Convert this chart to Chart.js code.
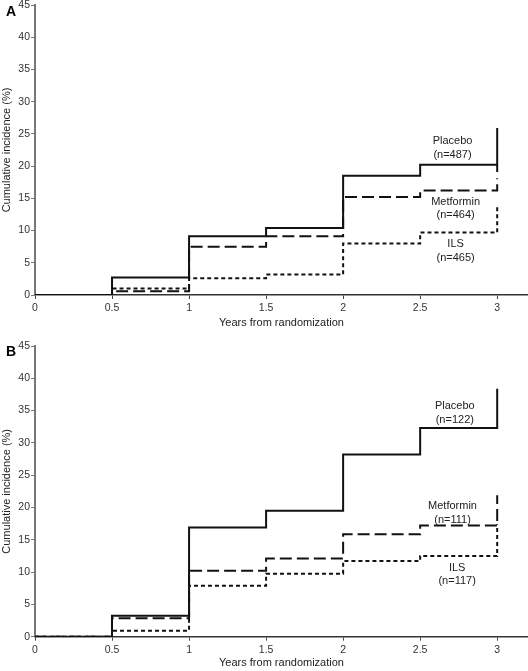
<!DOCTYPE html>
<html>
<head>
<meta charset="utf-8">
<script src="https://cdn.jsdelivr.net/npm/chart.js@4.4.1/dist/chart.umd.min.js"></script>
<style>
  html, body { margin: 0; padding: 0; background: #fff; }
  #wrap { position: relative; width: 528px; height: 671px; }
  canvas { position: absolute; left: 0; }
  #cA { top: 0; }
  #cB { top: 335px; }
  .panel-tag {
    position: absolute; left: 6px;
    font: bold 14px "Liberation Sans", Arial, sans-serif;
    line-height: 14px; color: #000;
  }
</style>
</head>
<body>
<div id="wrap">
  <canvas id="cA" width="528" height="335"></canvas>
  <canvas id="cB" width="528" height="336"></canvas>
  <div class="panel-tag" style="top:4px">A</div>
  <div class="panel-tag" style="top:344px">B</div>
</div>
<script>
// ── Data ──────────────────────────────────────────────────────────────────────
// step times (years); the last time is repeated for the closing vertical bar
const YEARS = [0, 0.5, 1, 1.5, 2, 2.5, 3, 3];
const NAMES = ["Placebo", "Metformin", "ILS"];

// panel A – cumulative incidence (%)
const placeboA   = [0, 2.7, 9.1, 10.4, 18.5, 20.2, 19.1, 25.9];
const metforminA = [0, 0.6, 7.5,  9.1, 15.2, 16.2, 16.2, 18.1];
const ilsA       = [0, 1.0, 2.6,  3.2,  8.0,  9.7,  9.7, 14.0];
const countsA    = ["(n=487)", "(n=464)", "(n=465)"];

// panel B – cumulative incidence (%)
const placeboB   = [0, 3.25, 16.9, 19.5, 28.2, 32.3, 32.3, 38.4];
const metforminB = [0, 2.85, 10.2, 12.1, 15.85, 17.2, 17.2, 21.9];
const ilsB       = [0, 0.93,  7.9, 9.75, 11.7, 12.5, 12.5, 17.4];
const countsB    = ["(n=122)", "(n=111)", "(n=117)"];

const X_TICK_MAX = 3;
const Y_TICK_STEP = 5;

// label anchors, data units (first line of each label)
const noteXA = [2.71, 2.73, 2.73];
const noteYA = [23.9, 14.5, 7.9];
const noteXB = [2.725, 2.71, 2.74];
const noteYB = [35.7, 20.2, 10.7];

// ── Style ─────────────────────────────────────────────────────────────────────
const FONT  = "'Liberation Sans', Arial, sans-serif";
const DASHES = [[], [12, 5], [4, 3]];
const $ = id => document.getElementById(id);

Chart.defaults.font.family = FONT;
Chart.defaults.color = "#333";

// ── Text labels next to the curves ────────────────────────────────────────────
const notePlugin = {
  id: "notes",
  afterDatasetsDraw(chart, args, opts) {
    const { ctx, scales: { x, y } } = chart;
    ctx.save();
    ctx.font = "11px " + FONT;
    ctx.fillStyle = "#222";
    ctx.textAlign = "center";
    ctx.textBaseline = "middle";
    opts.items.forEach(n => {
      const px = x.getPixelForValue(n.x);
      const py = y.getPixelForValue(n.y);
      ctx.fillText(n.name, px, py);
      ctx.fillText(n.count, px, py + 13.5);
    });
    ctx.restore();
  }
};

// ── Build one panel ───────────────────────────────────────────────────────────
function buildPanel(id, series, counts, nx, ny, padTop, xAxisH, titlePad) {
  return new Chart($(id), {
    type: "line",
    data: {
      datasets: series.map((vals, i) => ({
        label: NAMES[i],
        data: YEARS.map((x, j) => ({ x, y: vals[j] })),
        borderColor: "#111",
        borderWidth: 2,
        borderDash: DASHES[i],
        borderCapStyle: "butt",
        stepped: true,
        pointRadius: 0,
        fill: false,
      })),
    },
    options: {
      responsive: false,
      animation: false,
      layout: { padding: { top: padTop, left: 0, right: 0, bottom: 0 } },
      plugins: {
        legend: { display: false },
        tooltip: { enabled: false },
        notes: {
          items: NAMES.map((name, i) => ({ name, count: counts[i], x: nx[i], y: ny[i] })),
        },
      },
      scales: {
        x: {
          type: "linear",
          min: 0,
          max: 3.2,
          ticks: {
            stepSize: 0.5,
            includeBounds: false,
            padding: 3,
            maxRotation: 0,
            font: { size: 10.5 },
            callback: v => (v <= X_TICK_MAX ? v : ""),
          },
          grid: { drawOnChartArea: false, tickLength: 4, color: "#444" },
          border: { color: "#333", width: 1.5 },
          title: {
            display: true,
            text: "Years from randomization",
            font: { size: 11 },
            color: "#222",
            padding: { top: 0, bottom: titlePad },
          },
          afterFit: s => { s.height = xAxisH; s.paddingLeft = 0; s.paddingRight = 0; },
        },
        y: {
          min: 0,
          max: 45,
          ticks: { stepSize: Y_TICK_STEP, padding: 1, font: { size: 10.5 } },
          grid: { drawOnChartArea: false, tickLength: 4, color: "#777" },
          border: { color: "#777", width: 2 },
          title: {
            display: true,
            text: "Cumulative incidence (%)",
            font: { size: 11 },
            color: "#222",
            padding: { top: 0.5, bottom: 0 },
          },
          afterFit: s => { s.width = 35; s.paddingTop = 0; s.paddingBottom = 0; },
        },
      },
    },
    plugins: [notePlugin],
  });
}

buildPanel("cA", [placeboA, metforminA, ilsA], countsA, noteXA, noteYA, 5, 40, 5.4);
buildPanel("cB", [placeboB, metforminB, ilsB], countsB, noteXB, noteYB, 11, 34.3, 1.4);
</script>
</body>
</html>
